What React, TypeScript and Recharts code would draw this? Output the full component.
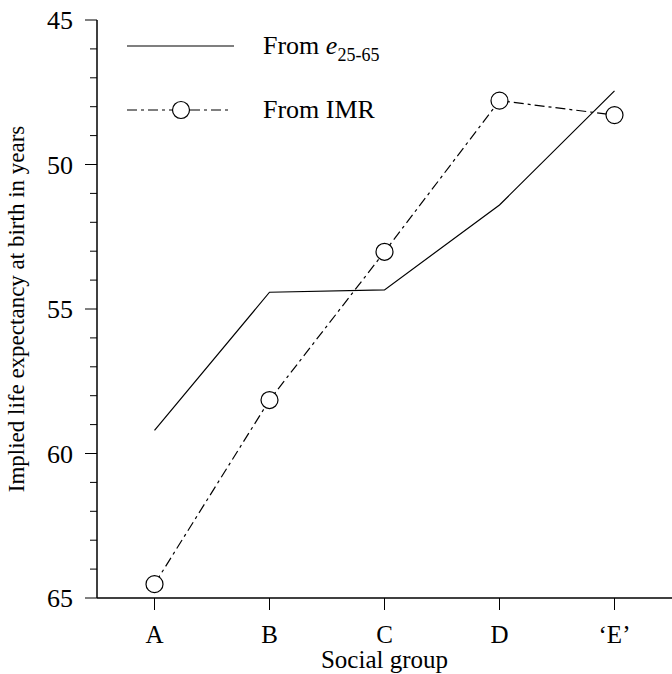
import React from 'react';
import { LineChart, Line, XAxis, YAxis } from 'recharts';

const groups = ['A', 'B', 'C', 'D', '\u2018E\u2019'];
const fromE2565 = [59.2, 54.42, 54.34, 51.4, 47.45];
const fromIMR = [64.52, 58.15, 53.02, 47.79, 48.29];
const yTicks = [45, 46, 47, 48, 49, 50, 51, 52, 53, 54, 55, 56, 57, 58, 59, 60, 61, 62, 63, 64, 65];
const xTicks = [0, 1, 2, 3, 4];

const data = groups.map((g, i) => ({ idx: i, group: g, e: fromE2565[i], imr: fromIMR[i] }));

const FONT = '"Liberation Serif", "Times New Roman", serif';
const DASH = '10 4 3 4';

const YTick = (props: any) => {
    const { x, y, payload } = props;
    const major = payload.value % 5 === 0;
    return (
        <g>
            <line x1={x - (major ? 12 : 7)} x2={x} y1={y} y2={y} stroke="#000" strokeWidth={1} />
            {major && (
                <text x={x - 24} y={y} dy={9} textAnchor="end" fontSize={26} fontFamily={FONT} fill="#000">
                    {payload.value}
                </text>
            )}
        </g>
    );
};

const XTick = (props: any) => {
    const { x, y, payload } = props;
    return (
        <text x={x} y={y} dy={31} textAnchor="middle" fontSize={25} fontFamily={FONT} fill="#000">
            {groups[payload.value]}
        </text>
    );
};

const CircleDot = (props: any) => {
    const { cx, cy, index } = props;
    return <circle key={index} cx={cx} cy={cy} r={8.5} fill="#fff" stroke="#000" strokeWidth={1.2} />;
};

const LegendBox = () => (
    <svg width={440} height={140} style={{ position: 'absolute', left: 0, top: 0 }}>
        <line x1={127} x2={234} y1={46} y2={46} stroke="#000" strokeWidth={1.2} />
        <text x={263} y={54} fontSize={26} fontFamily={FONT} fill="#000">
            From <tspan fontStyle="italic">e</tspan>
            <tspan fontSize={18} dy={7}>25-65</tspan>
        </text>
        <line x1={127} x2={229} y1={110} y2={110} stroke="#000" strokeWidth={1.2} strokeDasharray={DASH} />
        <circle cx={181} cy={110} r={8.5} fill="#fff" stroke="#000" strokeWidth={1.2} />
        <text x={263} y={118} fontSize={26} fontFamily={FONT} fill="#000">From IMR</text>
    </svg>
);

export default function App() {
    return (
        <div style={{ position: 'absolute', left: 0, top: 0, width: 672, height: 674, background: '#fff', overflow: 'hidden' }}>
            <LineChart width={672} height={674} data={data} margin={{ top: 20, right: 0, left: 0, bottom: 0 }}>
                <XAxis
                    dataKey="idx"
                    type="number"
                    domain={[-0.5, 4.5]}
                    ticks={xTicks}
                    height={76}
                    stroke="#000"
                    strokeWidth={1.5}
                    tickSize={12}
                    tickLine={{ stroke: '#000', strokeWidth: 1 }}
                    tick={<XTick />}
                    label={{
                        content: ({ viewBox }: any) => (
                            <text x={viewBox.x + viewBox.width / 2} y={viewBox.y + 70} textAnchor="middle" fontSize={25} fontFamily={FONT} fill="#000">
                                Social group
                            </text>
                        ),
                    }}
                />
                <YAxis
                    type="number"
                    domain={[45, 65]}
                    reversed
                    ticks={yTicks}
                    interval={0}
                    width={97}
                    stroke="#000"
                    strokeWidth={1.5}
                    tickSize={0}
                    tickMargin={0}
                    tickLine={false}
                    tick={<YTick />}
                    label={{
                        content: ({ viewBox }: any) => {
                            const cx = 17;
                            const cy = viewBox.y + viewBox.height / 2;
                            return (
                                <text x={cx} y={cy} transform={`rotate(-90 ${cx} ${cy})`} dy={7} textAnchor="middle" fontSize={23} fontFamily={FONT} fill="#000">
                                    Implied life expectancy at birth in years
                                </text>
                            );
                        },
                    }}
                />
                <Line type="linear" dataKey="e" stroke="#000" strokeWidth={1.2} dot={false} isAnimationActive={false} />
                <Line type="linear" dataKey="imr" stroke="#000" strokeWidth={1.2} strokeDasharray={DASH} dot={<CircleDot />} activeDot={false} isAnimationActive={false} />
            </LineChart>
            <LegendBox />
        </div>
    );
}
